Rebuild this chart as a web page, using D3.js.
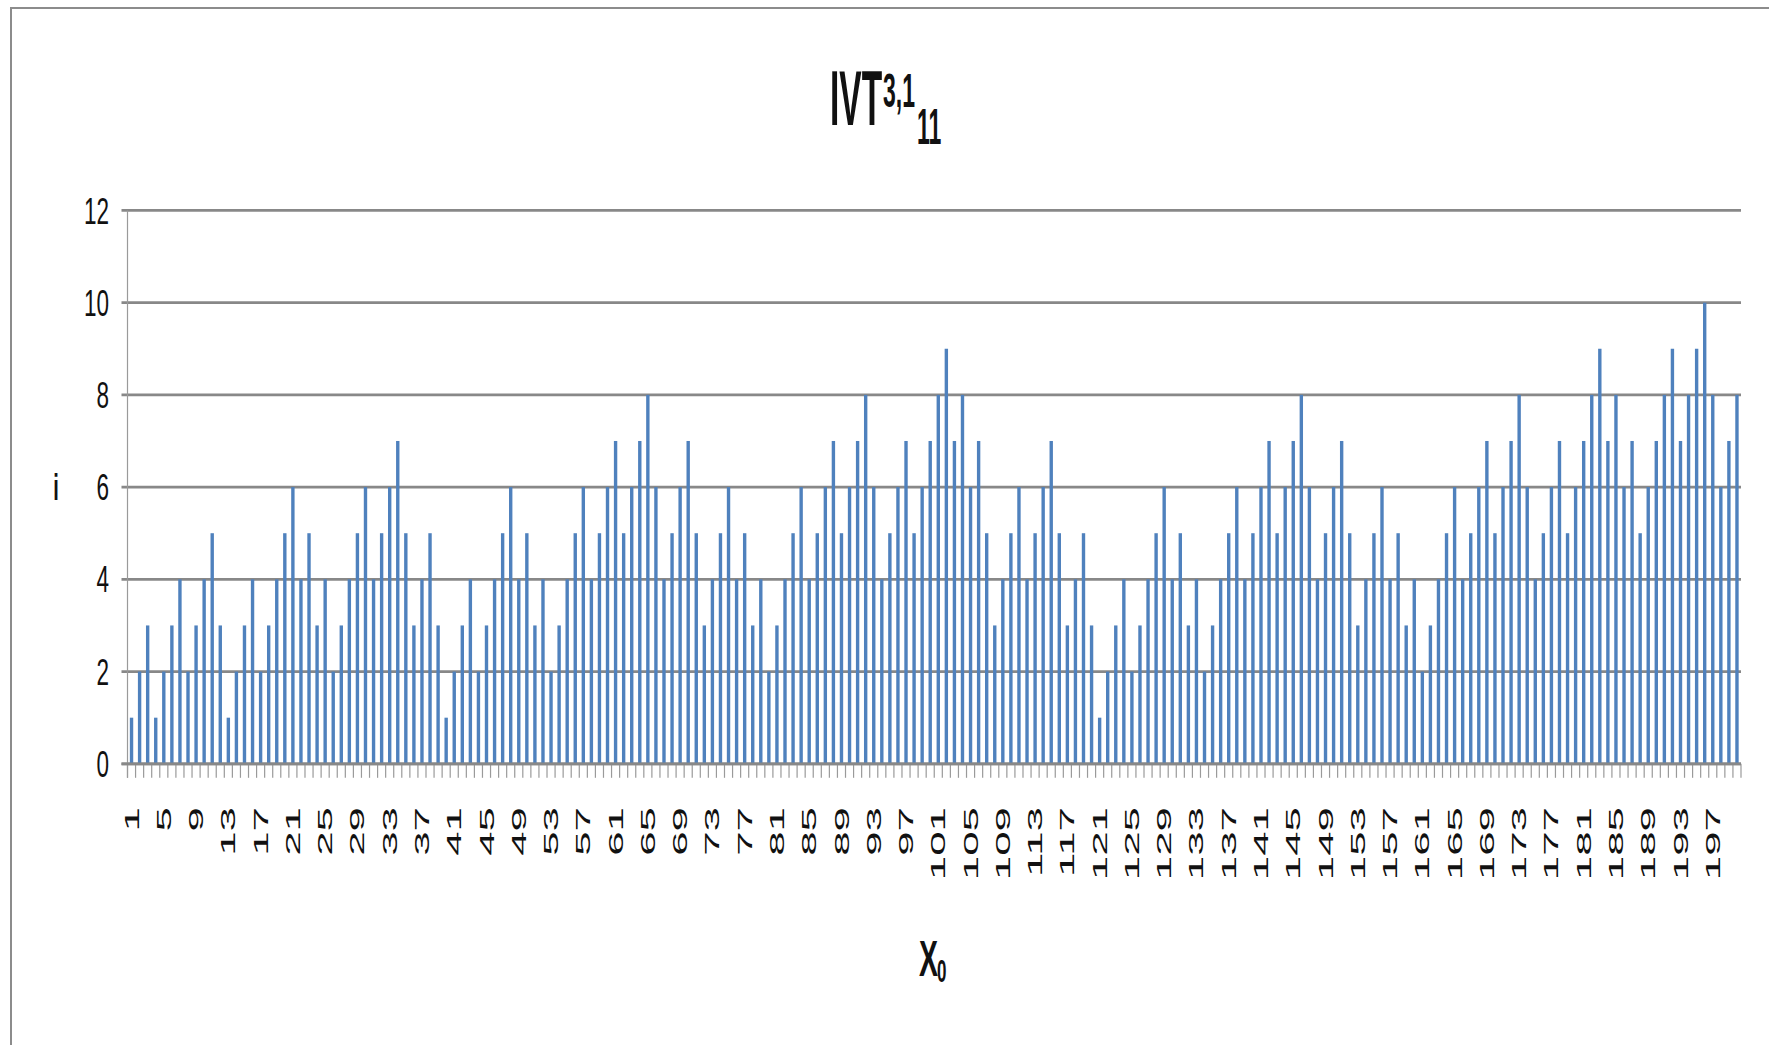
<!DOCTYPE html>
<html>
<head>
<meta charset="utf-8">
<script src="https://cdn.jsdelivr.net/npm/d3@7"></script>
<style>
  html, body { margin: 0; padding: 0; background: #fff; }
  svg { display: block; }
  text { font-family: "Liberation Sans", Arial, sans-serif; fill: #111; }
</style>
</head>
<body>
<svg id="chart" width="1769" height="1045"></svg>
<script>
// ---- data ----
const categories = d3.range(1, 201);
const values = [
  1,2,3,1,2,3,4,2,3,4,5,3,1,2,3,4,2,3,4,5,6,4,5,3,4,
  2,3,4,5,6,4,5,6,7,5,3,4,5,3,1,2,3,4,2,3,4,5,6,4,5,3,
  4,2,3,4,5,6,4,5,6,7,5,6,7,8,6,4,5,6,7,5,3,4,5,6,4,
  5,3,4,2,3,4,5,6,4,5,6,7,5,6,7,8,6,4,5,6,7,5,6,7,8,9,
  7,8,6,7,5,3,4,5,6,4,5,6,7,5,3,4,5,3,1,2,3,4,2,3,4,
  5,6,4,5,3,4,2,3,4,5,6,4,5,6,7,5,6,7,8,6,4,5,6,7,5,
  3,4,5,6,4,5,3,4,2,3,4,5,6,4,5,6,7,5,6,7,8,6,4,5,
  6,7,5,6,7,8,9,7,8,6,7,5,6,7,8,9,7,8,9,10,8,6,7,8
];
const yTicks = [0, 2, 4, 6, 8, 10, 12];
const xTickLabels = categories.filter((d, i) => i % 4 === 0);

// ---- layout ----
const svg = d3.select("#chart");
const plotLeft = 127.5, plotRight = 1741, plotTop = 210.4, plotBottom = 763.8;

// outer chart border
svg.append("rect")
  .attr("x", 11).attr("y", 8).attr("width", 1800).attr("height", 1100)
  .attr("fill", "none").attr("stroke", "#8c8c8c").attr("stroke-width", 2);

const x = d3.scaleBand().domain(categories).range([plotLeft, plotRight]).paddingInner(0.58).paddingOuter(0.29);
const y = d3.scaleLinear().domain([0, 12]).range([plotBottom, plotTop]);
const step = x.step();

// gridlines
svg.append("g").selectAll("line").data(yTicks).join("line")
  .attr("x1", plotLeft - 6).attr("x2", plotRight)
  .attr("y1", d => y(d)).attr("y2", d => y(d))
  .attr("stroke", "#888888").attr("stroke-width", 2.8);

// y axis line
svg.append("line")
  .attr("x1", plotLeft).attr("x2", plotLeft).attr("y1", y(12)).attr("y2", plotBottom + 14)
  .attr("stroke", "#9a9a9a").attr("stroke-width", 1.2);

// x ticks at category boundaries
const boundaries = categories.map(c => x(c) - (step - x.bandwidth()) / 2).concat([plotRight]);
svg.append("g").selectAll("line").data(boundaries).join("line")
  .attr("x1", d => d).attr("x2", d => d)
  .attr("y1", plotBottom).attr("y2", plotBottom + 14)
  .attr("stroke", "#9a9a9a").attr("stroke-width", 1.2);

// bars
svg.append("g").selectAll("rect").data(values).join("rect")
  .attr("x", (d, i) => x(categories[i]))
  .attr("width", x.bandwidth())
  .attr("y", d => y(d))
  .attr("height", d => y(0) - y(d))
  .attr("fill", "#4f81bd");

// redraw axis line at 0 above bars
svg.append("line")
  .attr("x1", plotLeft - 6).attr("x2", plotRight).attr("y1", y(0)).attr("y2", y(0))
  .attr("stroke", "#888888").attr("stroke-width", 2.8);

// y tick labels
svg.append("g").selectAll("text").data(yTicks).join("text")
  .attr("transform", d => `translate(109,${y(d)}) scale(1,1.62)`)
  .attr("text-anchor", "end").attr("dy", "0.36em")
  .style("font-size", "22.5px")
  .text(d => d);

// x tick labels (rotated)
svg.append("g").selectAll("text").data(xTickLabels).join("text")
  .attr("transform", d => `translate(${x(d) + x.bandwidth() / 2},807) scale(1,2.25) rotate(-90)`)
  .attr("text-anchor", "end").attr("dy", "0.36em")
  .style("font-size", "19.5px")
  .text(d => d);

// title IVT^{3,1}_{11}
const title = svg.append("g");
title.append("text").attr("transform", "translate(830,125) scale(1,2.3)")
  .style("font-size", "33.5px").style("font-weight", "bold").text("IVT");
title.append("text").attr("transform", "translate(883,107) scale(1,2.05)")
  .style("font-size", "23px").style("font-weight", "bold").text("3,1");
title.append("text").attr("transform", "translate(917,144) scale(1,2.15)")
  .style("font-size", "23px").style("font-weight", "bold").text("11");

// y axis title
svg.append("text").attr("transform", "translate(56,500) scale(1,1.8)")
  .attr("text-anchor", "middle")
  .style("font-size", "20px").style("font-weight", "bold").text("i");

// x axis title X_0
svg.append("text").attr("transform", "translate(919,976) scale(1,1.76)")
  .style("font-size", "28.5px").style("font-weight", "bold").text("X");
svg.append("text").attr("transform", "translate(937,982) scale(1,1.9)")
  .style("font-size", "17px").style("font-weight", "bold").text("0");
</script>
</body>
</html>
